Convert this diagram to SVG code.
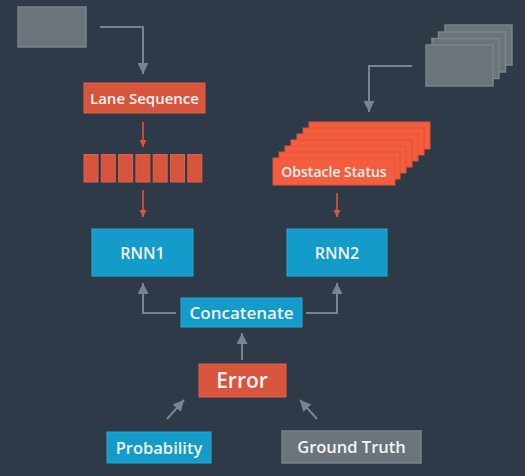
<svg xmlns="http://www.w3.org/2000/svg" width="525" height="476" viewBox="0 0 525 476">
<defs>
<style>
.bg{fill:#2e3a47}
.gray{fill:#6b737b;stroke:#7b838b;stroke-width:1.5}
.red{fill:#d8553d;stroke:#e2604a;stroke-width:1}
.blue{fill:#139cc9;stroke:#27a9d4;stroke-width:1}
.obs{fill:#f45d3d;stroke:#e0553a;stroke-width:1}
.t{font-family:"Open Sans","Noto Sans","Liberation Sans",sans-serif;font-weight:600;fill:#f4f4f4;text-anchor:middle}
.cg{fill:none;stroke:#7a848e;stroke-width:2}
.cr{fill:none;stroke:#e0553a;stroke-width:1.6}
</style>
<marker id="ag" viewBox="0 0 10 10" refX="10" refY="5" markerWidth="5.5" markerHeight="5.5" orient="auto" markerUnits="strokeWidth"><path d="M0,0L10,5L0,10z" fill="#7a848e"/></marker>
<marker id="ar" viewBox="0 0 10 10" refX="10" refY="5" markerWidth="4.5" markerHeight="4.5" orient="auto" markerUnits="strokeWidth"><path d="M0,0L10,5L0,10z" fill="#e0553a"/></marker>
</defs>
<rect class="bg" x="0" y="0" width="525" height="476"/>

<g id="input-lane">
<rect class="gray" x="18" y="7" width="68" height="40"/>
</g>

<g id="input-obstacles">
<rect class="gray" x="445" y="25" width="67" height="40"/>
<rect class="gray" x="438.5" y="32" width="67" height="40"/>
<rect class="gray" x="432" y="38.5" width="67" height="40"/>
<rect class="gray" x="426" y="45" width="67" height="41"/>
</g>

<g id="lane-sequence">
<rect class="red" x="84" y="83" width="121" height="30"/>
<text class="t" x="144.5" y="103.5" font-size="15">Lane Sequence</text>
</g>

<g id="lane-cells">
<rect class="red" x="84" y="154.5" width="14" height="27.5"/>
<rect class="red" x="101.3" y="154.5" width="14" height="27.5"/>
<rect class="red" x="118.6" y="154.5" width="14" height="27.5"/>
<rect class="red" x="135.9" y="154.5" width="14" height="27.5"/>
<rect class="red" x="153.2" y="154.5" width="14" height="27.5"/>
<rect class="red" x="170.5" y="154.5" width="14" height="27.5"/>
<rect class="red" x="187.8" y="154.5" width="14" height="27.5"/>
</g>

<g id="obstacle-status">
<rect class="obs" x="309" y="122" width="121" height="27"/>
<rect class="obs" x="303" y="128" width="121" height="27"/>
<rect class="obs" x="297" y="134" width="121" height="27"/>
<rect class="obs" x="291" y="140" width="121" height="27"/>
<rect class="obs" x="285" y="146" width="121" height="27"/>
<rect class="obs" x="279" y="152" width="121" height="27"/>
<rect class="obs" x="273" y="158" width="122" height="27"/>
<text class="t" x="334" y="176.5" font-size="14">Obstacle Status</text>
</g>

<g id="rnn1">
<rect class="blue" x="92" y="229" width="101" height="47"/>
<text class="t" x="142.5" y="258.5" font-size="16">RNN1</text>
</g>

<g id="rnn2">
<rect class="blue" x="287" y="229" width="100" height="47"/>
<text class="t" x="337" y="258.5" font-size="16">RNN2</text>
</g>

<g id="concatenate">
<rect class="blue" x="181" y="298" width="121" height="29"/>
<text class="t" x="241.5" y="318.5" font-size="17">Concatenate</text>
</g>

<g id="error">
<rect class="red" x="199" y="364" width="87" height="33"/>
<text class="t" x="242" y="388" font-size="21">Error</text>
</g>

<g id="probability">
<rect class="blue" x="107" y="432" width="104" height="31"/>
<text class="t" x="159" y="453.5" font-size="16.5">Probability</text>
</g>

<g id="ground-truth">
<rect class="gray" x="282" y="431" width="139" height="32"/>
<text class="t" x="351.5" y="453" font-size="16.5">Ground Truth</text>
</g>

<g id="connectors">
<path class="cg" d="M100,27H143V74" marker-end="url(#ag)"/>
<path class="cg" d="M412,66H369V112" marker-end="url(#ag)"/>
<path class="cr" d="M143,122V147" marker-end="url(#ar)"/>
<path class="cr" d="M143,190V217" marker-end="url(#ar)"/>
<path class="cr" d="M337,193V217" marker-end="url(#ar)"/>
<path class="cg" d="M176,313H143V283" marker-end="url(#ag)"/>
<path class="cg" d="M306,313H337V283" marker-end="url(#ag)"/>
<path class="cg" d="M242,360V333" marker-end="url(#ag)"/>
<path class="cg" d="M167,419L184,400" marker-end="url(#ag)"/>
<path class="cg" d="M317,419L300,400" marker-end="url(#ag)"/>
</g>
</svg>
